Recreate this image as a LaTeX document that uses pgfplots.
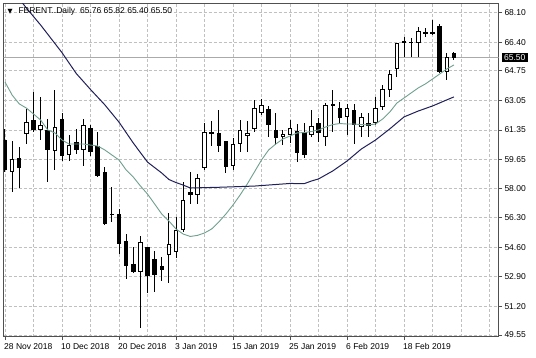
\documentclass[border=0pt]{standalone}
\usepackage{fontspec}
\setmainfont{Liberation Sans}
\newfontfamily\dejavu{DejaVu Sans}
\usepackage{pgfplots}
\usepackage{pgfplotstable}
\pgfplotsset{compat=1.18}
\definecolor{gridc}{RGB}{192,192,192}
\definecolor{maf}{RGB}{112,160,142}
\definecolor{mas}{RGB}{32,32,92}
\definecolor{framec}{RGB}{80,80,80}
\definecolor{pricel}{RGB}{170,170,170}

\pgfplotstableread{
i O H L C
0 60.77 61.39 58.95 59.05
1 58.91 60.72 57.76 59.68
2 59.72 60.39 57.99 59.14
3 61.10 62.56 60.53 61.79
4 61.92 63.55 61.25 61.35
5 61.35 63.23 60.77 61.64
6 61.35 61.96 58.37 60.20
7 60.14 63.65 59.05 61.50
8 61.96 62.31 59.58 59.87
9 59.91 61.06 59.56 60.48
10 60.64 61.39 59.97 60.20
11 60.20 61.96 59.28 61.64
12 61.48 61.64 59.85 60.10
13 60.43 61.25 58.63 58.70
14 58.91 59.20 55.88 55.94
15 56.50 58.08 56.04 56.52
16 56.51 56.78 54.21 54.77
17 54.98 55.35 52.75 53.52
18 53.62 54.63 53.10 53.19
19 53.19 55.26 49.93 54.92
20 54.60 54.63 51.95 52.96
21 53.92 54.40 52.01 53.00
22 53.52 54.06 52.67 53.29
23 54.15 56.55 52.54 54.79
24 54.34 56.36 53.98 55.59
25 55.59 58.35 55.48 57.32
26 57.78 58.93 57.09 57.58
27 57.61 58.82 57.09 58.61
28 59.16 61.75 59.05 61.23
29 61.20 61.84 60.40 61.18
30 61.19 62.50 60.08 60.43
31 60.69 60.72 58.89 59.22
32 59.30 60.86 59.05 60.54
33 60.54 61.92 60.08 61.35
34 61.00 61.87 60.08 61.19
35 61.39 63.05 61.25 62.60
36 62.34 63.13 62.21 62.79
37 62.56 62.73 60.95 61.64
38 61.35 62.30 60.48 60.87
39 60.97 61.35 60.48 61.12
40 61.06 61.92 60.60 61.48
41 61.29 61.69 59.51 60.01
42 61.25 61.77 59.72 59.91
43 61.06 62.50 60.95 61.58
44 61.73 62.02 60.68 61.16
45 60.96 62.89 60.44 62.79
46 62.83 63.65 61.25 62.73
47 62.60 62.98 61.73 62.02
48 62.08 62.85 61.06 62.60
49 62.50 62.85 60.54 61.64
50 61.54 62.31 60.96 62.08
51 61.77 62.31 60.93 61.58
52 61.73 63.27 61.64 62.60
53 62.66 63.94 62.50 63.69
54 63.65 64.80 63.27 64.57
55 64.84 66.37 64.38 66.34
56 66.43 66.72 65.57 66.45
57 66.40 66.63 65.57 66.38
58 66.34 67.29 65.57 67.06
59 67.01 67.20 66.72 66.87
60 66.96 67.68 66.82 66.94
61 67.33 67.45 64.65 64.70
62 64.70 65.76 64.23 65.57
63 65.76 65.82 65.40 65.50
}\candles

\begin{document}
\begin{tikzpicture}[x=1pt,y=1pt]
\fill[white] (0,0) rectangle (536,358);
\useasboundingbox (0,0) rectangle (536,358);
\begin{axis}[
  at={(3.5pt,21.3pt)}, anchor=south west,
  scale only axis, width=495pt, height=333.4pt,
  xmin=-0.21, xmax=69.26, ymin=49.45, ymax=68.64,
  axis line style={draw=framec, line width=0.9pt},
  xtick={0,8,16,24,32,40,48,56},
  xticklabels={28 Nov 2018,10 Dec 2018,20 Dec 2018,3 Jan 2019,15 Jan 2019,25 Jan 2019,6 Feb 2019,18 Feb 2019},
  minor xtick={4,12,20,28,36,44,52,60,64,68},
  ytick={49.55,51.20,52.90,54.60,56.30,58.00,59.65,61.35,63.05,64.75,66.40,68.10},
  yticklabels={49.55,51.20,52.90,54.60,56.30,58.00,59.65,61.35,63.05,64.75,66.40,68.10},
  xtick pos=left, ytick pos=right, yticklabel pos=right,
  tick align=outside,
  major tick length=3.5pt, minor tick length=0pt,
  tick style={draw=framec, line width=0.8pt},
  grid=both,
  major grid style={draw=gridc, dash pattern=on 3pt off 2pt, line width=0.8pt},
  minor grid style={draw=gridc, dash pattern=on 3pt off 2pt, line width=0.8pt},
  tick label style={font=\fontsize{8.5}{10}\selectfont, text=black},
  xticklabel style={anchor=north west, inner sep=0pt, xshift=-1pt, yshift=-2.8pt},
  yticklabel style={anchor=west, inner sep=0pt, xshift=2.3pt},
]
% current price line
\addplot[pricel, line width=0.8pt, mark=none, forget plot] coordinates {(-1,65.50) (70,65.50)};
% wicks
\addplot[draw=none, mark=none, forget plot,
  error bars/.cd, y dir=both, y explicit, error mark=none,
  error bar style={draw=black, line width=1pt}]
  table[x=i, y=C, y error plus expr={\thisrow{H}-\thisrow{C}}, y error minus expr={\thisrow{C}-\thisrow{L}}] {\candles};
% bodies
\addplot[draw=none, mark=none, forget plot,
  error bars/.cd, y dir=both, y explicit, error mark=none,
  error bar style={draw=black, line width=4.5pt}]
  table[x=i, y expr={(\thisrow{O}+\thisrow{C})/2}, y error expr={max(abs(\thisrow{C}-\thisrow{O})/2,0.028)}] {\candles};
\addplot[draw=none, mark=none, forget plot,
  error bars/.cd, y dir=both, y explicit, error mark=none,
  error bar style={draw=white, line width=2.5pt}]
  table[x=i, y expr={(\thisrow{O}+\thisrow{C})/2}, y error expr={max((\thisrow{C}-\thisrow{O})/2-0.055,0)}] {\candles};
% moving averages
\addplot[maf, line width=0.9pt, mark=none] coordinates {
(0,64.11) (1,63.36) (2,62.85) (3,62.61) (4,62.27) (5,61.92) (6,61.35) (7,61.18) (8,60.77) (9,60.54)
(10,60.54) (11,60.54) (12,60.48) (13,60.43) (14,60.20) (15,59.91) (16,59.62) (17,59.05) (18,58.64) (19,58.13)
(20,57.66) (21,57.09) (22,56.51) (23,56.11) (24,55.65) (25,55.36) (26,55.22) (27,55.28) (28,55.42) (29,55.65)
(30,56.05) (31,56.51) (32,57.03) (33,57.61) (34,58.24) (35,58.93) (36,59.62) (37,60.20) (38,60.54) (39,60.83)
(40,61.00) (41,61.18) (42,61.20) (43,61.26) (44,61.35) (45,61.52) (46,61.66) (47,61.72) (48,61.69) (49,61.69)
(50,61.66) (51,61.64) (52,61.69) (53,61.98) (54,62.38) (55,62.90) (56,63.19) (57,63.48) (58,63.77) (59,64.00)
(60,64.28) (61,64.57) (62,64.86) (63,65.09)
};
\addplot[mas, line width=1pt, mark=none] coordinates {
(1,69.33) (2,68.89) (3,68.37) (5,67.39) (8,65.80) (10,64.60) (12,63.68) (14,62.80) (16,61.80) (18,60.60)
(20,59.50) (22,58.87) (23,58.50) (24,58.32) (25,58.18) (26,58.01) (30,58.05) (35,58.12) (40,58.27) (42,58.26)
(43,58.41) (44,58.53) (46,58.99) (48,59.56) (50,60.25) (52,60.77) (54,61.41) (56,62.10) (58,62.44) (60,62.73)
(62,63.08) (63,63.25)
};
\coordinate (lastp) at (axis cs:69.26,65.50);
\end{axis}
\node[anchor=west, fill=black, text=white, inner xsep=2.2pt, inner ysep=1.4pt,
  font=\fontsize{8.5}{10}\selectfont] at ([xshift=3.2pt]lastp) {65.50};
\node[anchor=base west, inner sep=0pt, font=\fontsize{8.5}{10}\selectfont]
  at (18.3,344) {FBRENT..Daily\hspace{2.5pt} 65.76 65.82 65.40 65.50};
\node[inner sep=0pt, font=\dejavu\fontsize{6.5}{7}\selectfont] at (10,346.5) {▼};
\end{tikzpicture}
\end{document}
